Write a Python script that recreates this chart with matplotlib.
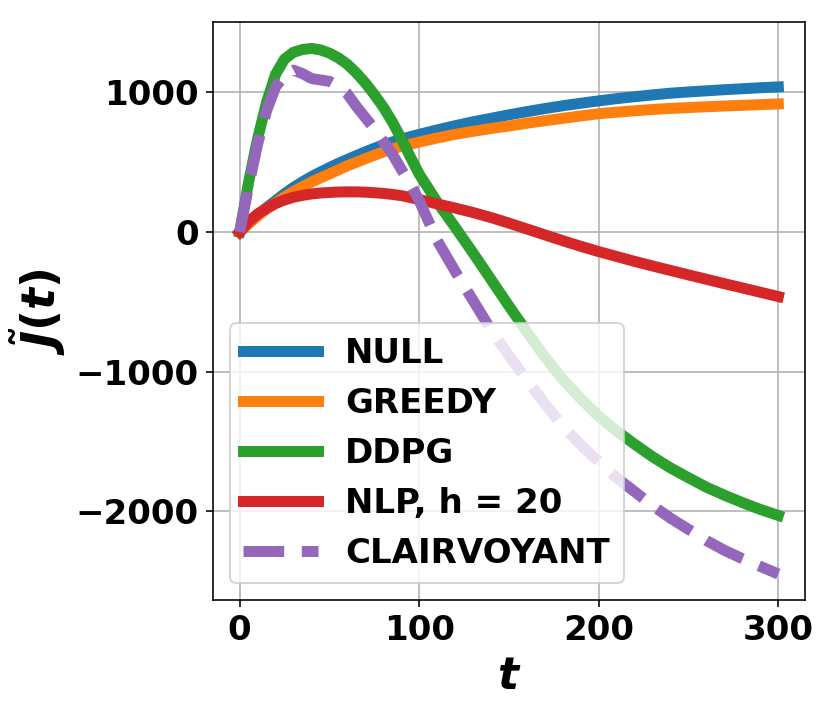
import matplotlib
matplotlib.use('Agg')
import matplotlib.pyplot as plt

t = [0, 5, 10, 15, 20, 25, 30, 35, 40, 45, 50, 55, 60, 65, 70, 75, 80, 85, 90, 95, 100,
     110, 120, 130, 140, 150, 160, 170, 180, 190, 200,
     210, 220, 230, 240, 250, 260, 270, 280, 290, 300]

null_j = [0, 62, 120, 175, 225, 275, 320, 360, 397, 430, 462, 492, 520, 548, 575, 600, 625, 645, 665, 683, 700,
          732, 762, 790, 815, 840, 863, 885, 905, 923, 940,
          956, 970, 983, 995, 1004, 1012, 1020, 1027, 1034, 1040]

greedy_j = [0, 60, 115, 165, 208, 252, 290, 325, 358, 388, 416, 446, 475, 500, 526, 550, 574, 595, 614, 630, 645,
            674, 700, 722, 742, 760, 780, 798, 815, 832, 848,
            859, 869, 878, 886, 892, 898, 903, 908, 913, 918]

ddpg_j = [0, 360, 670, 930, 1130, 1240, 1288, 1308, 1316, 1305, 1282, 1248, 1202, 1140, 1068, 985, 895, 790, 670, 540, 415,
          215, 35, -150, -340, -530, -715, -895, -1055, -1195, -1320,
          -1425, -1520, -1610, -1690, -1760, -1828, -1885, -1938, -1987, -2030]

nlp_j = [0, 75, 130, 170, 205, 230, 250, 263, 273, 280, 284, 287, 288, 288, 286, 282, 277, 270, 261, 248, 233,
         202, 172, 140, 104, 64, 22, -20, -62, -102, -140,
         -175, -210, -243, -275, -307, -338, -370, -400, -431, -462]

clair_j = [0, 330, 630, 870, 1040, 1125, 1160, 1135, 1100, 1090, 1080, 1045, 990, 900, 820, 740, 650, 560, 450, 345, 225,
           -60, -280, -490, -700, -885, -1060, -1230, -1390, -1525, -1645,
           -1760, -1860, -1960, -2050, -2130, -2210, -2280, -2340, -2395, -2450]

plt.rcParams['mathtext.fontset'] = 'custom'
plt.rcParams['mathtext.it'] = 'DejaVu Sans:italic:bold'
plt.rcParams['mathtext.rm'] = 'DejaVu Sans:bold'
plt.rcParams['font.weight'] = 'bold'

fig = plt.figure(figsize=(831 / 144, 713 / 144), dpi=144)
ax = fig.add_axes([0.256, 0.158, 0.713, 0.811])

lw = 5.5
ax.plot(t, null_j, lw=lw, label='NULL')
ax.plot(t, greedy_j, lw=lw, label='GREEDY')
ax.plot(t, ddpg_j, lw=lw, label='DDPG')
ax.plot(t, nlp_j, lw=lw, label='NLP, h = 20')
ax.plot(t, clair_j, '--', lw=lw, label='CLAIRVOYANT')

ax.set_xticks([0, 100, 200, 300])
ax.set_yticks([-2000, -1000, 0, 1000])
ax.tick_params(labelsize=17)
for lab in ax.get_xticklabels() + ax.get_yticklabels():
    lab.set_fontweight('bold')

ax.set_xlabel(r'$t$', fontsize=22)
ax.set_ylabel(r'$\tilde{J}(t)$', fontsize=23)
ax.grid(True)
ax.legend(loc='lower left', prop={'weight': 'bold', 'size': 17}, handlelength=2.2)

fig.savefig('out.png', dpi=144)
